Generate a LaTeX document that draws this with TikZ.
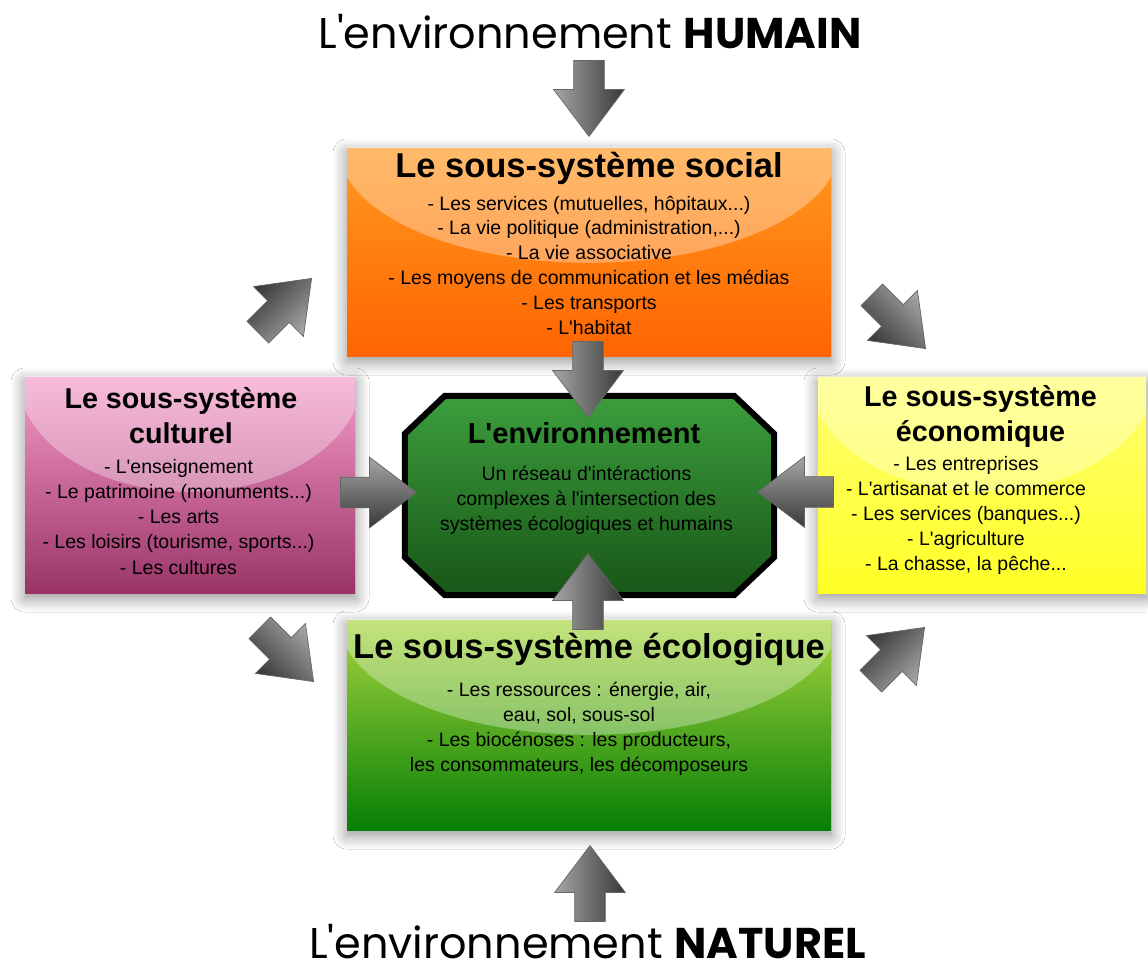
\documentclass[tikz,border=0pt]{standalone}
\usepackage{fontspec}
\setmainfont{Liberation Sans}[Ligatures=TeXOff]
\newfontfamily\arial{Liberation Sans}[Ligatures=TeXOff]
\newfontfamily\gothic{Poppins}[Ligatures=TeXOff]
\usetikzlibrary{shapes.arrows,shadows.blur}
\definecolor{soctop}{HTML}{FF9A22}
\definecolor{socbot}{HTML}{FF6400}
\definecolor{culttop}{HTML}{F59BC9}
\definecolor{cultbot}{HTML}{9A3467}
\definecolor{ecotop}{HTML}{FFFF72}
\definecolor{ecobot}{HTML}{FFFF26}
\definecolor{ecoltop}{HTML}{A8D63E}
\definecolor{ecolbot}{HTML}{067F06}
\definecolor{envtop}{HTML}{3C9E3C}
\definecolor{envbot}{HTML}{185618}
\definecolor{arrowlight}{HTML}{A6A6A6}
\definecolor{arrowdark}{HTML}{383838}
\tikzset{
  sysbox/.style={rectangle, inner sep=0pt,
    blur shadow={shadow xshift=0pt, shadow yshift=-5pt, shadow blur radius=14pt, shadow blur steps=12, shadow opacity=45}},
  gloss/.style={white, opacity=0.32},
  boxtitle/.style={anchor=base, align=center, font=\arial\bfseries\fontsize{#1}{35}\selectfont, inner sep=0pt},
  items/.style={anchor=base, align=center, font=\arial\fontsize{19.5}{#1}\selectfont, inner sep=0pt},
  bigtitle/.style={anchor=base, font=\gothic\fontsize{43}{50}\selectfont, inner sep=0pt},
  blockarrow/.style={single arrow, anchor=tip, draw=black!60, line width=0.7pt,
    minimum height=76pt, inner xsep=0pt, inner ysep=15pt, single arrow head extend=20pt,
    single arrow tip angle=74,
    top color=arrowlight, bottom color=arrowdark, shading angle=#1},
}
\begin{document}
\begin{tikzpicture}[x=1pt,y=-1pt]
\fill[white] (0,0) rectangle (1148,969);
\useasboundingbox (0,0) rectangle (1148,969);

% boxes
\node[sysbox, minimum width=484pt, minimum height=208pt, top color=soctop, bottom color=socbot] (social) at (589,252) {};
\node[sysbox, minimum width=330pt, minimum height=216pt, top color=culttop, bottom color=cultbot] (cult) at (190,485) {};
\node[sysbox, minimum width=328pt, minimum height=216pt, top color=ecotop, bottom color=ecobot] (econ) at (982,485) {};
\node[sysbox, minimum width=484pt, minimum height=210pt, top color=ecoltop, bottom color=ecolbot] (ecol) at (589,725) {};

% gloss highlights
\foreach \b/\rx in {social/250, cult/172, econ/172, ecol/250}{
  \begin{scope}
    \clip (\b.south west) rectangle (\b.north east);
    \fill[gloss] (\b.north) ellipse [x radius=\rx, y radius=115];
  \end{scope}
}

% central octagon
\node[rectangle, minimum width=369pt, minimum height=199pt, inner sep=0pt] (env) at (589.5,495.5) {};
\path[draw=black, line width=6pt, line join=miter, top color=envtop, bottom color=envbot]
  ([xshift=40pt]env.north west) -- ([xshift=-40pt]env.north east)
  -- ([yshift=-38pt]env.north east) -- ([yshift=38pt]env.south east)
  -- ([xshift=-40pt]env.south east) -- ([xshift=40pt]env.south west)
  -- ([yshift=38pt]env.south west) -- ([yshift=-38pt]env.north west) -- cycle;

% texts
\node[bigtitle] (humain) at (590,48) {L'environnement \textbf{HUMAIN}};
\node[bigtitle] (naturel) at (587.5,958) {L'environnement \textbf{NATUREL}};

\node[boxtitle=34.5] (socT) at (589,177) {Le sous-système social};
\node[items=24.8] (socI) at (589,334) {- Les services (mutuelles, hôpitaux...)\\- La vie politique (administration,...)\\- La vie associative\\- Les moyens de communication et les médias\\- Les transports\\- L'habitat};

\node[boxtitle=28.7] (cultT) at (181,443) {Le sous-système\\culturel};
\node[items=25.2] (cultI) at (178.5,574) {- L'enseignement\\- Le patrimoine (monuments...)\\- Les arts\\- Les loisirs (tourisme, sports...)\\- Les cultures};

\node[boxtitle=28.7] (econT) at (980.5,441) {Le sous-système\\économique};
\node[items=25] (econI) at (966,570) {- Les entreprises\\- L'artisanat et le commerce\\- Les services (banques...)\\- L'agriculture\\- La chasse, la pêche...};

\node[boxtitle=34.5] (ecolT) at (589,658) {Le sous-système écologique};
\node[items=24.7] (ecolI) at (579,771) {- Les ressources : énergie, air,\\eau, sol, sous-sol\\- Les biocénoses : les producteurs,\\les consommateurs, les décomposeurs};

\node[boxtitle=29] (envT) at (584,443) {L'environnement};
\node[items=25] (envI) at (586.5,530) {Un réseau d'intéractions\\complexes à l'intersection des\\systèmes écologiques et humains};

% block arrows (placed by their tips)
\node[blockarrow=90, rotate=-90] (aTop) at (589,137) {};
\node[blockarrow=90, rotate=-90] (aSoc) at (588,418) {};
\node[blockarrow=90, rotate=90] (aEcol) at (588,553) {};
\node[blockarrow=90, rotate=90] (aBot) at (590,845) {};
\node[blockarrow=0, rotate=0] (aCult) at (417,492.5) {};
\node[blockarrow=0, rotate=180] (aEcon) at (757,492) {};
\node[blockarrow=-135, rotate=45] (aTL) at (312,278) {};
\node[blockarrow=-45, rotate=-45] (aTR) at (926,349) {};
\node[blockarrow=-45, rotate=-45] (aBL) at (314,682) {};
\node[blockarrow=-135, rotate=45] (aBR) at (925,627) {};
\end{tikzpicture}
\end{document}
